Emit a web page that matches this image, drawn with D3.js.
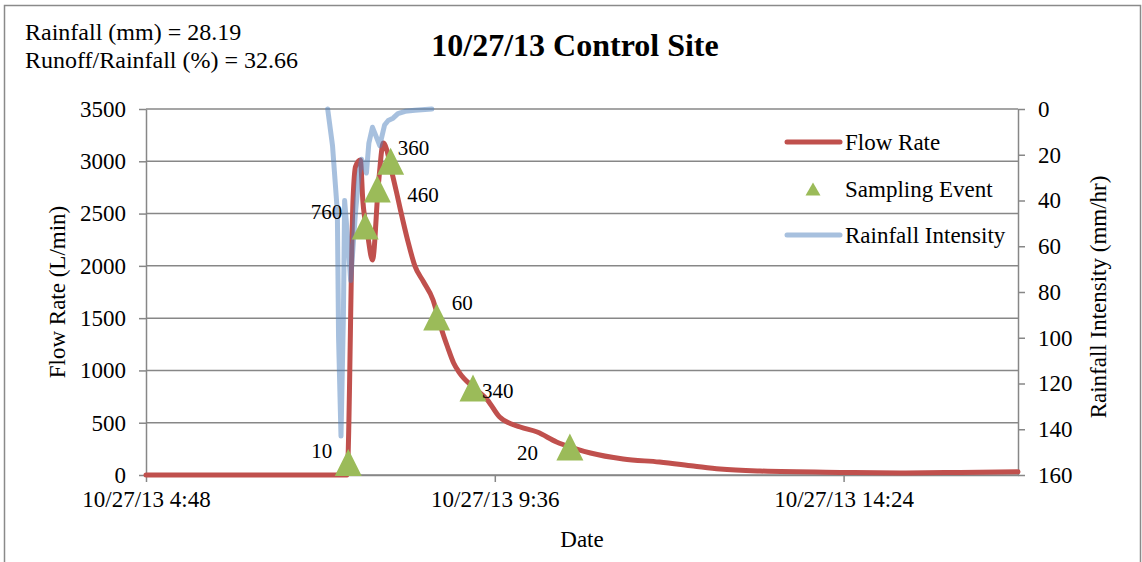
<!DOCTYPE html>
<html>
<head>
<meta charset="utf-8">
<script src="https://cdn.jsdelivr.net/npm/d3@7"></script>
<style>
body{margin:0;background:#fff;}
svg text{font-family:"Liberation Serif","DejaVu Serif",serif;fill:#000;}
</style>
</head>
<body>
<div class="plot"></div>
<script>
// flow rate, L/min
var flowTimes  = ['4:48','7:31','7:34','7:39','7:41','7:45','7:47','7:51','7:55','8:00','8:04','8:07','8:10','8:15','8:18','8:24','8:30','8:37','8:45','8:48','8:53','8:57','9:02','9:07','9:18','9:30','9:40','9:57','10:11','10:27','10:41','10:55','11:22','11:52','12:20','12:42','13:15','14:24','15:11','16:00','16:48'];
var flowValues = [0,0,0,2650,2950,3012,2630,2300,2056,2792,3175,3100,2945,2697,2540,2247,2000,1850,1674,1560,1358,1224,1071,975,842,717,555,459,411,316,258,210,153,124,86,57,38,25,20,25,30];

// rainfall intensity, mm/hr
var rainTimes  = ['7:18','7:22','7:26','7:27','7:29','7:31','7:32','7:35','7:37','7:41','7:44','7:46','7:50','7:52','7:55','7:58','8:01','8:05','8:08','8:12','8:16','8:22','8:30','8:44'];
var rainValues = [0,16,45,100,143,90,40,60,75,45,28,22,28,15,8,12,16,7,5,4,2,1,0.5,0];

// sampling events
var sampleTimes  = ['7:35','7:49','7:59','8:10','8:48','9:18','10:38'];
var sampleValues = [120,2380,2735,3000,1511,832,268];
var sampleLabels = ['10','760','460','360','60','340','20'];
var labelSide = ['end','end','start','start','start','start','end'];
var labelDx = [-16,-23,30,7,15,9,-32];
var labelDy = [-12,-14,6,-14,-14,3,6];

var xTickLabels = ['10/27/13 4:48','10/27/13 9:36','10/27/13 14:24'];
var flowTicks = [0,500,1000,1500,2000,2500,3000,3500];
var rainTicks = [0,20,40,60,80,100,120,140,160];

var W = 1142, H = 562;
var m = {t:109, r:124, b:87, l:146},
    w = W - m.l - m.r,
    h = H - m.t - m.b;

var day = '10/27/13 ';
var parse = d3.timeParse('%m/%d/%y %H:%M');
function toDate(t){ return parse(day + t); }

var red = '#C0504D', green = '#9BBB59', blue = '#4F81BD', grid = '#878787';
var serif = '"Liberation Serif","DejaVu Serif",serif';

var flow = flowTimes.map(function(t,i){ return {t:toDate(t), v:flowValues[i]}; });
var rain = rainTimes.map(function(t,i){ return {t:toDate(t), v:rainValues[i]}; });
var samples = sampleTimes.map(function(t,i){ return {t:toDate(t), v:sampleValues[i], label:sampleLabels[i], i:i}; });

var x = d3.scaleTime().domain([toDate('4:48'), toDate('16:48')]).range([0,w]);
var y = d3.scaleLinear().domain([0,3500]).range([h,0]);
var yR = d3.scaleLinear().domain([0,160]).range([0,h]);

var svg = d3.select('.plot').append('svg')
    .attr('width',W)
    .attr('height',H)
    .attr('font-family',serif);

// outer chart border
svg.append('rect')
    .attr('x',4.5).attr('y',5.5)
    .attr('width',W-6).attr('height',H+20)
    .attr('fill','none')
    .attr('stroke','#8a8a8a')
    .attr('stroke-width',1.5);

svg.append('text')
    .attr('x',25).attr('y',40)
    .style('font-size','24px')
    .text('Rainfall (mm) = 28.19');
svg.append('text')
    .attr('x',25).attr('y',68)
    .style('font-size','24px')
    .text('Runoff/Rainfall (%) = 32.66');

svg.append('text')
    .attr('x',575).attr('y',56)
    .attr('text-anchor','middle')
    .style('font-size','32px')
    .style('font-weight','bold')
    .text('10/27/13 Control Site');

var plot = svg.append('g')
    .attr('transform','translate('+m.l+','+m.t+')');

// gridlines
plot.selectAll('.grid')
    .data(flowTicks)
    .enter()
    .append('line')
    .attr('class','grid')
    .attr('x1',0).attr('x2',w)
    .attr('y1',function(d){return y(d)})
    .attr('y2',function(d){return y(d)})
    .attr('stroke',grid)
    .attr('stroke-width',1.5);

function styleAxis(g){
    g.attr('font-family',serif);
    g.select('.domain').attr('stroke',grid).attr('stroke-width',1.5);
    g.selectAll('.tick line').attr('stroke',grid).attr('stroke-width',1.5);
    g.selectAll('text').style('font-family',serif).style('font-size','23px').attr('fill','#000');
}

plot.append('g')
    .call(d3.axisLeft(y).tickValues(flowTicks).tickFormat(d3.format('d'))
        .tickSize(7).tickSizeOuter(0).tickPadding(13))
    .call(styleAxis);

plot.append('g')
    .attr('transform','translate('+w+',0)')
    .call(d3.axisRight(yR).tickValues(rainTicks).tickFormat(d3.format('d'))
        .tickSize(7).tickSizeOuter(0).tickPadding(13))
    .call(styleAxis);

plot.append('g')
    .attr('transform','translate(0,'+h+')')
    .call(d3.axisBottom(x)
        .tickValues(xTickLabels.map(function(s){return parse(s)}))
        .tickFormat(function(d,i){return xTickLabels[i]})
        .tickSize(7).tickSizeOuter(0).tickPadding(9))
    .call(styleAxis);

// series
var flowLine = d3.line()
    .x(function(d){return x(d.t)})
    .y(function(d){return y(d.v)})
    .curve(d3.curveMonotoneX);

var rainLine = d3.line()
    .x(function(d){return x(d.t)})
    .y(function(d){return yR(d.v)});

plot.append('path')
    .datum(flow)
    .attr('d',flowLine)
    .attr('fill','none')
    .attr('stroke',red)
    .attr('stroke-width',5)
    .attr('stroke-linejoin','round')
    .attr('stroke-linecap','round');

plot.append('path')
    .datum(rain)
    .attr('d',rainLine)
    .attr('fill','none')
    .attr('stroke',blue)
    .attr('stroke-opacity',0.5)
    .attr('stroke-width',5)
    .attr('stroke-linejoin','round')
    .attr('stroke-linecap','round');

function triangle(cx,cy,wd,ht){
    return 'M'+cx+','+(cy-ht/2)+'L'+(cx+wd/2)+','+(cy+ht/2)+'L'+(cx-wd/2)+','+(cy+ht/2)+'Z';
}

plot.selectAll('.sample')
    .data(samples)
    .enter()
    .append('path')
    .attr('class','sample')
    .attr('d',function(d){return triangle(x(d.t),y(d.v),27,27)})
    .attr('fill',green);

plot.selectAll('.slabel')
    .data(samples)
    .enter()
    .append('text')
    .attr('class','slabel')
    .attr('x',function(d){return x(d.t)+labelDx[d.i]})
    .attr('y',function(d){return y(d.v)+labelDy[d.i]})
    .attr('dy','0.35em')
    .attr('text-anchor',function(d){return labelSide[d.i]})
    .style('font-size','21px')
    .text(function(d){return d.label});

// axis titles
svg.append('text')
    .attr('transform','translate(57,292) rotate(-90)')
    .attr('text-anchor','middle')
    .attr('dy','0.35em')
    .style('font-size','23px')
    .text('Flow Rate (L/min)');

svg.append('text')
    .attr('transform','translate(1098,297) rotate(-90)')
    .attr('text-anchor','middle')
    .attr('dy','0.35em')
    .style('font-size','23px')
    .text('Rainfall Intensity (mm/hr)');

svg.append('text')
    .attr('x',m.l+w/2).attr('y',547)
    .attr('text-anchor','middle')
    .style('font-size','23px')
    .text('Date');

// legend
var legend = svg.append('g');
var legendItems = ['Flow Rate','Sampling Event','Rainfall Intensity'];
var legendY = [142,189,235];

legend.append('line')
    .attr('x1',787).attr('x2',840)
    .attr('y1',legendY[0]).attr('y2',legendY[0])
    .attr('stroke',red).attr('stroke-width',5).attr('stroke-linecap','round');
legend.append('path')
    .attr('d',triangle(813,legendY[1],15,13))
    .attr('fill',green);
legend.append('line')
    .attr('x1',787).attr('x2',840)
    .attr('y1',legendY[2]).attr('y2',legendY[2])
    .attr('stroke',blue).attr('stroke-opacity',0.5).attr('stroke-width',5).attr('stroke-linecap','round');

legend.selectAll('text')
    .data(legendItems)
    .enter()
    .append('text')
    .attr('x',845)
    .attr('y',function(d,i){return legendY[i]})
    .attr('dy','0.35em')
    .style('font-size','23px')
    .text(function(d){return d});
</script>
</body>
</html>
